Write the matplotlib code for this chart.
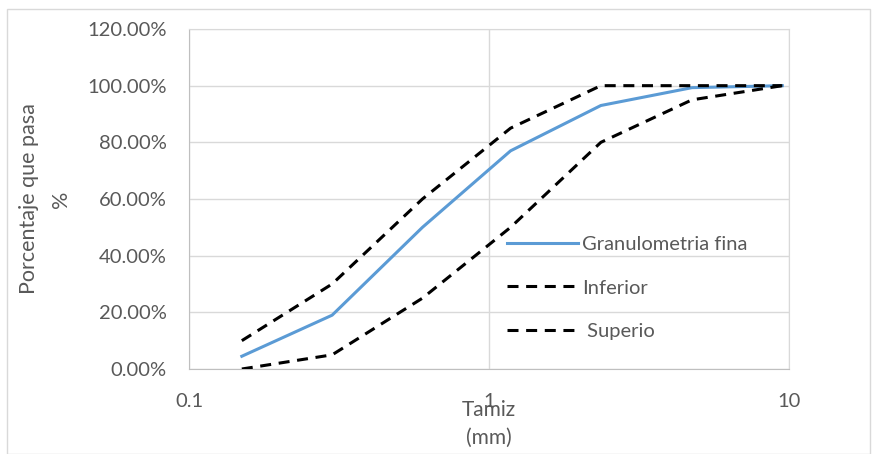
import matplotlib.pyplot as plt
from matplotlib.patches import Rectangle
from matplotlib.ticker import FuncFormatter, FixedLocator

# -------------------------
# Data
# -------------------------
tamiz_mm = [0.15, 0.3, 0.6, 1.18, 2.36, 4.75, 9.5]
granulometria_fina = [4.5, 19.0, 50.0, 77.0, 93.0, 99.3, 100.0]
inferior = [0.0, 5.0, 25.0, 50.0, 80.0, 95.0, 100.0]
superio = [10.0, 30.0, 60.0, 85.0, 100.0, 100.0, 100.0]

x_ticks = [0.1, 1, 10]
y_ticks = [0, 20, 40, 60, 80, 100, 120]

# -------------------------
# Style
# -------------------------
plt.rcParams["font.family"] = ["Lato", "DejaVu Sans"]
text_gray = "#595959"
grid_gray = "#d9d9d9"
blue = "#5b9bd5"

fig = plt.figure(figsize=(8.77, 4.54), dpi=100)
ax = fig.add_axes([189 / 877, 1 - 369 / 454, 600 / 877, 340 / 454])

ax.plot(tamiz_mm, granulometria_fina, color=blue, linewidth=2.2,
        label="Granulometria fina", zorder=3)
ax.plot(tamiz_mm, inferior, color="black", linewidth=2.2,
        linestyle=(0, (3.6, 2.5)), label="Inferior", zorder=3)
ax.plot(tamiz_mm, superio, color="black", linewidth=2.2,
        linestyle=(0, (3.6, 2.5)), label=" Superio", zorder=3)

ax.set_xscale("log")
ax.set_xlim(0.1, 10)
ax.set_ylim(0, 120)
ax.xaxis.set_major_locator(FixedLocator(x_ticks))
ax.xaxis.set_minor_locator(FixedLocator([]))
ax.xaxis.set_major_formatter(FuncFormatter(lambda v, p: f"{v:g}"))
ax.yaxis.set_major_locator(FixedLocator(y_ticks))
ax.yaxis.set_major_formatter(FuncFormatter(lambda v, p: f"{v:.2f}%"))

ax.grid(True, color=grid_gray, linewidth=1.0, zorder=0)
ax.set_axisbelow(True)
for side in ["top", "right"]:
    ax.spines[side].set_color(grid_gray)
for side in ["left", "bottom"]:
    ax.spines[side].set_color("#bfbfbf")
ax.tick_params(axis="both", length=0, labelsize=14.5, labelcolor=text_gray)
ax.tick_params(axis="x", pad=17)
ax.tick_params(axis="y", pad=16)

# axis titles
fig.text(489 / 877, 1 - 424 / 454, "Tamiz\n(mm)", ha="center", va="center",
         fontsize=15, color=text_gray, linespacing=1.45)
fig.text(45 / 877, 1 - 199 / 454, "Porcentaje que pasa\n%", ha="center",
         va="center", rotation=90, fontsize=15.5, color=text_gray,
         linespacing=1.7)

ax.legend(loc="upper left", bbox_to_anchor=(489 / 877, 1 - 218 / 454),
          bbox_transform=fig.transFigure, frameon=False, fontsize=14.5,
          labelcolor=text_gray, handlelength=3.5, handletextpad=0.2,
          labelspacing=1.3)

# outer chart border
fig.patches.append(Rectangle((7 / 877, 0), 1 - 14 / 877, 1 - 9 / 454,
                             transform=fig.transFigure, fill=False,
                             edgecolor=grid_gray, linewidth=1.0))

fig.savefig("out.png", dpi=100)
